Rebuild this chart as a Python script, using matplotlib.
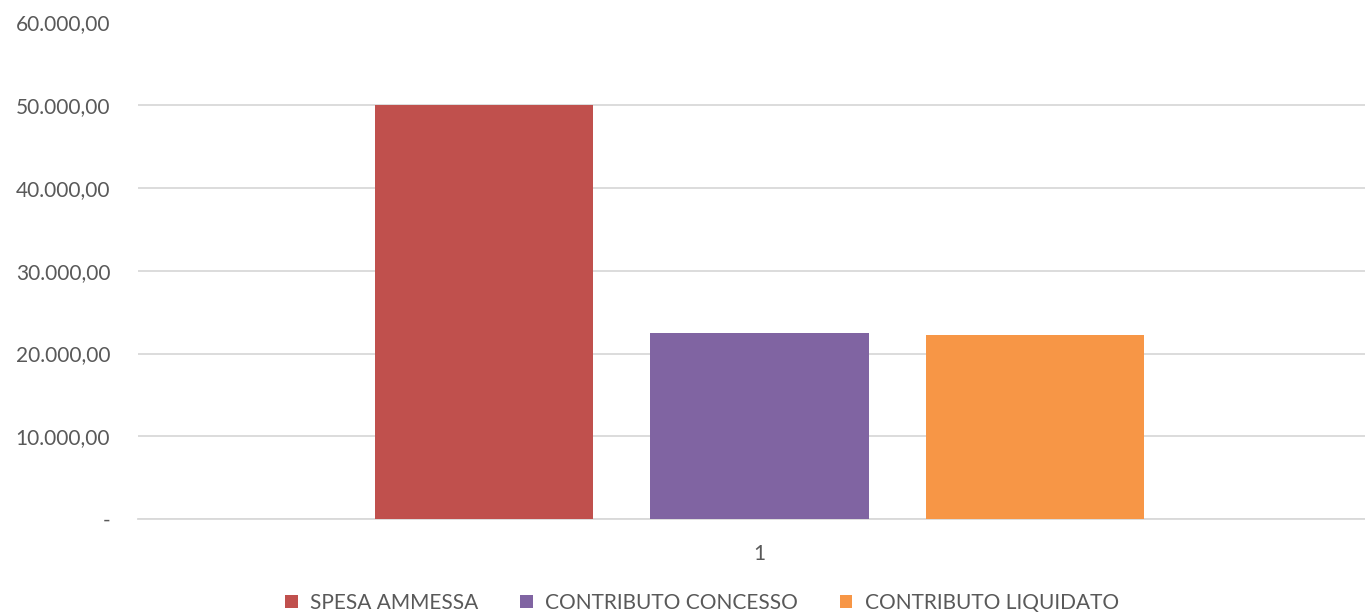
import matplotlib
matplotlib.use("Agg")
import matplotlib.pyplot as plt
from matplotlib.patches import Patch

series = ["SPESA AMMESSA", "CONTRIBUTO CONCESSO", "CONTRIBUTO LIQUIDATO"]
values = [50000, 22500, 22250]
colors = ["#C0504D", "#8064A2", "#F79646"]
category = "1"
yticks = [0, 10000, 20000, 30000, 40000, 50000, 60000]

def fmt(v):
    if v == 0:
        return "-"
    s = f"{v:,.2f}"
    return s.replace(",", "X").replace(".", ",").replace("X", ".")

plt.rcParams['font.family'] = ['Lato', 'DejaVu Sans']
fig = plt.figure(figsize=(13.65, 6.13), dpi=100)
ax = fig.add_axes([138/1365, (613-519)/613, 1 - 138/1365, (519-22.5)/613])

positions = [-1, 0, 1]
for p, v, c in zip(positions, values, colors):
    ax.bar(p, v, width=0.79, color=c, zorder=3)

ax.set_ylim(0, 60000)
ax.set_xlim(-2.252, 2.194)
ax.set_yticks(yticks)
ax.set_yticklabels([fmt(v) for v in yticks], fontsize=15, color="#595959")
ax.set_xticks([0])
ax.set_xticklabels([category], fontsize=15, color="#595959")
ax.tick_params(axis='y', length=0, pad=20)
ax.tick_params(axis='x', length=0, pad=18)
ax.grid(axis='y', color="#D9D9D9", linewidth=1.3, zorder=0)
for s in ["top", "right", "left"]:
    ax.spines[s].set_visible(False)
ax.spines["bottom"].set_color("#D9D9D9")
ax.spines["bottom"].set_linewidth(1.3)

handles = [Patch(facecolor=c, label=s) for s, c in zip(series, colors)]
fig.legend(handles=handles, loc="center", bbox_to_anchor=(702/1365, 1 - 603/613),
           ncol=3, frameon=False, fontsize=15, labelcolor="#595959",
           handlelength=0.6, handleheight=0.6, handletextpad=0.6, columnspacing=2.0)

fig.savefig("out.png", dpi=100)
